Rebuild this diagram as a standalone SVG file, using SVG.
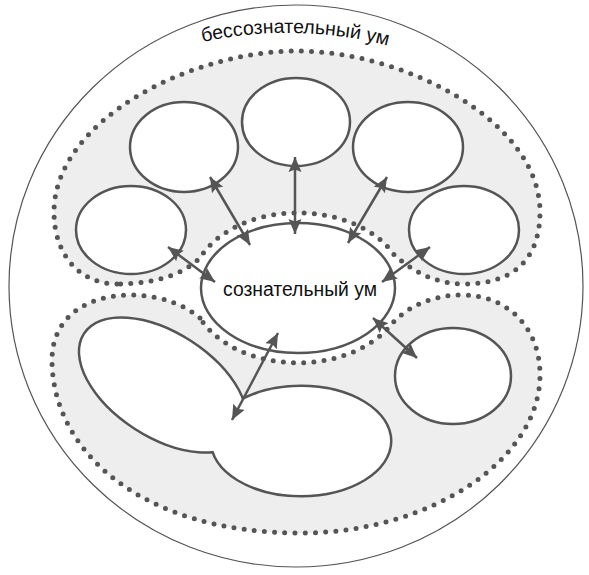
<svg xmlns="http://www.w3.org/2000/svg" width="589" height="575" viewBox="0 0 589 575">
<style>
.region{fill:#eeeeee;stroke:#555555;stroke-width:5;stroke-dasharray:0 10.2;stroke-linecap:round}
.node{fill:#ffffff;stroke:#555555;stroke-width:2.5}
.conn{stroke:#555555;stroke-width:2.5;fill:none;marker-start:url(#ah);marker-end:url(#ah)}
.lbl{font-family:"Liberation Sans","DejaVu Sans",sans-serif;fill:#111111}
</style>
<defs>
<marker id="ah" markerUnits="userSpaceOnUse" markerWidth="16" markerHeight="14" refX="15" refY="7" orient="auto-start-reverse" viewBox="0 0 16 14">
<path d="M0,0.5 L15,7 L0,13.5 L2.5,7 Z" fill="#555555"/>
</marker>
<path id="arcText" d="M 190,45 A 400,400 0 0 1 400,49"/>
</defs>
<g id="outer">
<ellipse cx="296" cy="286" rx="287" ry="281" fill="#ffffff" stroke="#555555" stroke-width="1.2"/>
<text class="lbl" font-size="19.5"><textPath href="#arcText" startOffset="50%" text-anchor="middle">бессознательный ум</textPath></text>
</g>
<g id="upper-region">
<path class="region" d="M 117,284 C 80,284 54,255 54,212 C 54,122 188,51 297,51 C 406,51 540,122 540,212 C 540,262 510,284 465,284 C 435,284 415,272 395,256 A 107,75 0 0 0 200,258 C 185,272 160,284 117,284 Z"/>
</g>
<g id="lower-region">
<path class="region" d="M 200,318 C 185,305 160,295 130,295 C 90,295 52,315 52,360 C 52,450 140,533 300,533 C 430,533 540,460 540,375 C 540,325 505,295 462,295 C 430,295 405,308 390,326 A 107,75 0 0 1 200,318 Z"/>
</g>
<g id="conscious">
<ellipse class="node" cx="298" cy="288" rx="97" ry="65"/>
<text class="lbl" x="300" y="296" font-size="19.5" text-anchor="middle" textLength="154" lengthAdjust="spacingAndGlyphs">сознательный ум</text>
</g>
<g id="node-top"><ellipse class="node" cx="296" cy="122" rx="54" ry="44"/></g>
<g id="node-upper-left"><ellipse class="node" cx="184" cy="147" rx="54" ry="45"/></g>
<g id="node-upper-right"><ellipse class="node" cx="408" cy="147" rx="55" ry="45"/></g>
<g id="node-left"><ellipse class="node" cx="131" cy="230" rx="55" ry="44"/></g>
<g id="node-right"><ellipse class="node" cx="464" cy="230" rx="55" ry="44"/></g>
<g id="node-lower-right"><ellipse class="node" cx="453" cy="376" rx="58" ry="48"/></g>
<g id="node-lower-merged">
<ellipse cx="163" cy="385" rx="93" ry="51" transform="rotate(33 163 385)" fill="none" stroke="#555555" stroke-width="5"/>
<ellipse cx="301" cy="441" rx="89" ry="54" fill="none" stroke="#555555" stroke-width="5"/>
<ellipse cx="163" cy="385" rx="93" ry="51" transform="rotate(33 163 385)" fill="#ffffff"/>
<ellipse cx="301" cy="441" rx="89" ry="54" fill="#ffffff"/>
</g>
<g id="connectors">
<line class="conn" x1="295" y1="157" x2="295" y2="234"/>
<line class="conn" x1="210" y1="177" x2="250" y2="245"/>
<line class="conn" x1="168" y1="247" x2="215" y2="282"/>
<line class="conn" x1="387" y1="177" x2="348" y2="243"/>
<line class="conn" x1="430" y1="247" x2="382" y2="282"/>
<line class="conn" x1="373" y1="318" x2="417" y2="358"/>
<line class="conn" x1="278" y1="333" x2="232" y2="420"/>
</g>
</svg>
